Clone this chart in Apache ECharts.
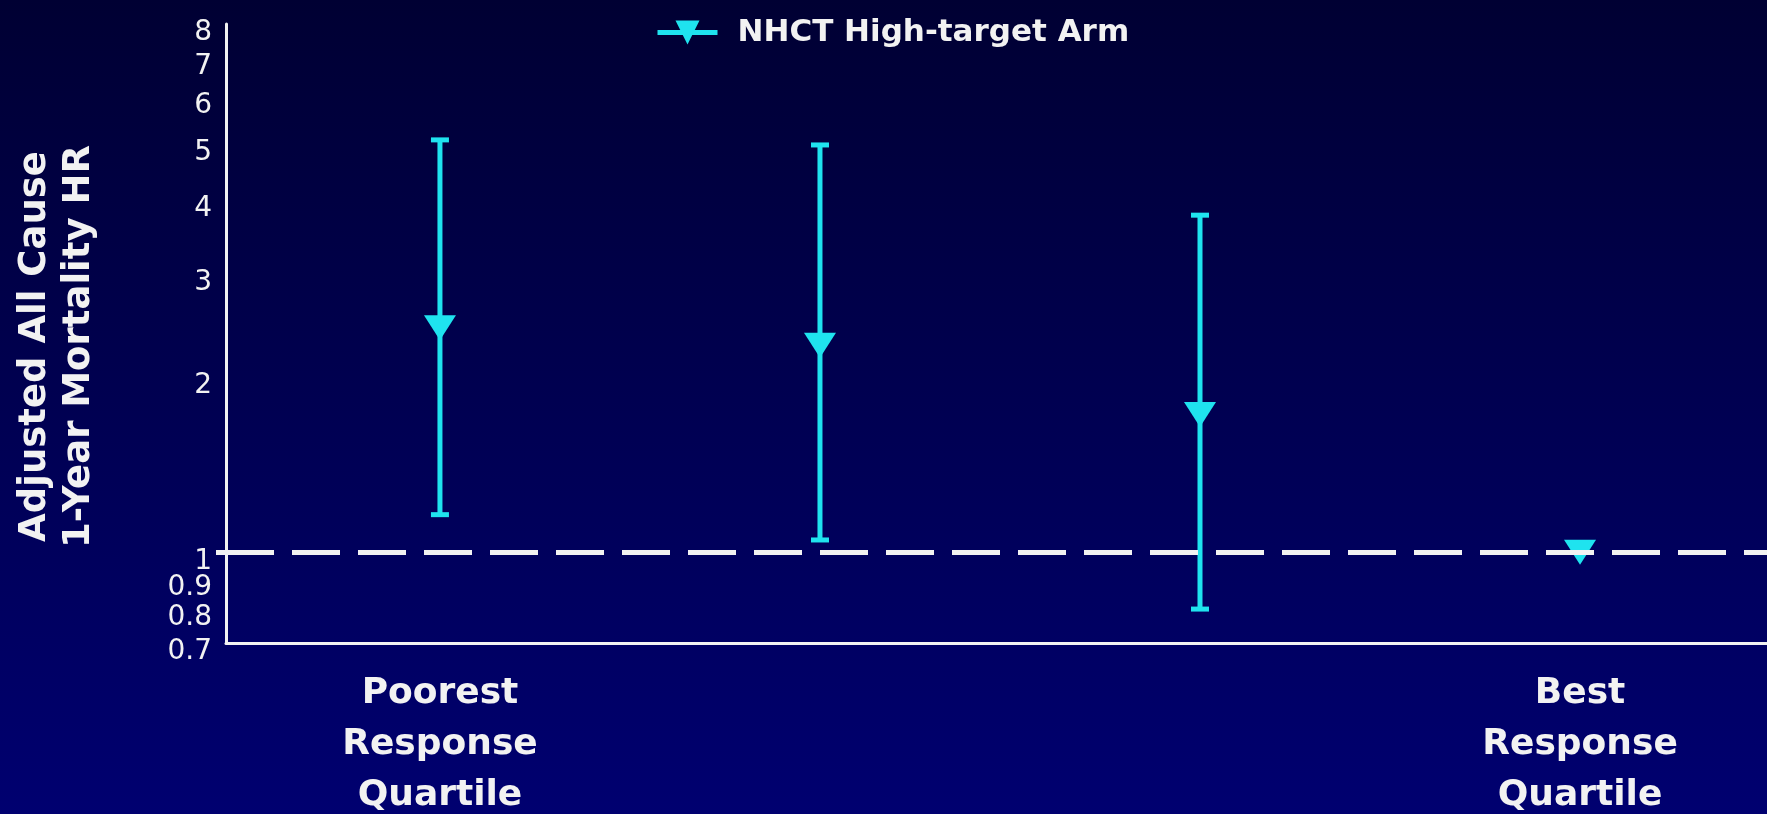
<!DOCTYPE html>
<html>
<head>
<meta charset="utf-8">
<title>Adjusted All Cause 1-Year Mortality HR by Response Quartile</title>
<script src="https://cdn.jsdelivr.net/npm/echarts@6/dist/echarts.min.js"></script>
<style>
  html, body { margin: 0; padding: 0; background: #000040; overflow: hidden; }
  #chart { width: 1767px; height: 814px; }
</style>
</head>
<body>
<div id="chart"></div>
<script>
// Response quartiles (positions 1..4 on the x axis); only the ends are labelled
const quartileLabels = ['Poorest\nResponse\nQuartile', '', '', 'Best\nResponse\nQuartile'];
const quartilePos = [1, 2, 3, 4];

// Hazard ratio point estimates and 95% CI bounds (best quartile is the reference)
const hazardRatio = [2.42, 2.26, 1.72, 1.0];
const ciLower = [1.16, 1.05, 0.80, null];
const ciUpper = [5.07, 4.97, 3.77, null];

// Log-scale tick labels on the y axis
const yTicks = [0.7, 0.8, 0.9, 1, 2, 3, 4, 5, 6, 7, 8];

const seriesName = 'NHCT High-target Arm';
const cyan = '#1fe3ef';
const white = '#f2f2f2';

const pointData = quartilePos.map((x, i) => [x, hazardRatio[i]]);
const ciData = [];
quartilePos.forEach((x, i) => {
  if (ciLower[i] != null && ciUpper[i] != null) ciData.push([x, ciLower[i], ciUpper[i]]);
});

const chart = echarts.init(document.getElementById('chart'));

chart.setOption({
  backgroundColor: {
    type: 'linear', x: 0, y: 0, x2: 0, y2: 1,
    colorStops: [
      { offset: 0, color: '#000033' },
      { offset: 1, color: '#000070' }
    ]
  },
  animation: false,
  legend: {
    data: [seriesName],
    left: 655,
    top: 17,
    padding: 0,
    itemWidth: 60,
    itemHeight: 30,
    selectedMode: false,
    lineStyle: { color: cyan, width: 5, opacity: 1 },
    textStyle: {
      color: white,
      fontFamily: 'DejaVu Sans',
      fontWeight: 'bold',
      fontSize: 31,
      padding: [0, 0, 0, 15]
    }
  },
  grid: {
    left: 226, right: 0, top: 24, bottom: 171,
    containLabel: false,
    outerBoundsMode: 'none'
  },
  xAxis: {
    type: 'value',
    min: 0.437,
    max: 4.492,
    splitLine: { show: false },
    axisTick: { show: false },
    axisLine: { show: true, onZero: false, lineStyle: { color: white, width: 3 } },
    axisLabel: {
      customValues: [1, 4],
      formatter: v => quartileLabels[Math.round(v) - 1],
      color: white,
      fontFamily: 'DejaVu Sans',
      fontWeight: 'bold',
      fontSize: 36,
      lineHeight: 51,
      margin: 25
    }
  },
  yAxis: {
    type: 'log',
    logBase: 10,
    min: 0.7,
    max: 8,
    name: 'Adjusted All Cause\n1-Year Mortality HR',
    nameLocation: 'middle',
    nameRotate: 90,
    nameGap: 125,
    nameTextStyle: {
      color: white,
      fontFamily: 'DejaVu Sans',
      fontWeight: 'bold',
      fontSize: 37,
      lineHeight: 44,
      padding: [0, 26, 0, 0]
    },
    splitLine: { show: false },
    minorTick: { show: false },
    axisLine: { show: true, lineStyle: { color: white, width: 3 } },
    axisTick: {
      show: true,
      customValues: [1],
      length: 10,
      lineStyle: { color: white, width: 5 }
    },
    axisLabel: {
      customValues: yTicks,
      formatter: v => String(v),
      color: white,
      fontFamily: 'DejaVu Sans',
      fontSize: 28,
      margin: 14,
      verticalAlign: 'top',
      lineHeight: 18
    }
  },
  series: [
    {
      name: 'CI',
      type: 'custom',
      z: 2,
      silent: true,
      data: ciData,
      encode: { x: 0, y: [1, 2] },
      renderItem: function (params, api) {
        const x = api.value(0);
        const lo = api.coord([x, api.value(1)]);
        const hi = api.coord([x, api.value(2)]);
        const half = 9;
        const style = { stroke: cyan, lineWidth: 5 };
        return {
          type: 'group',
          children: [
            { type: 'line', shape: { x1: lo[0], y1: lo[1], x2: hi[0], y2: hi[1] }, style: style },
            { type: 'line', shape: { x1: hi[0] - half, y1: hi[1], x2: hi[0] + half, y2: hi[1] }, style: style },
            { type: 'line', shape: { x1: lo[0] - half, y1: lo[1], x2: lo[0] + half, y2: lo[1] }, style: style }
          ]
        };
      },
      markLine: {
        silent: true,
        symbol: 'none',
        label: { show: false },
        lineStyle: { color: white, width: 5, type: [48, 18] },
        data: [{ yAxis: 1 }]
      }
    },
    {
      name: seriesName,
      type: 'line',
      z: 3,
      data: pointData,
      symbol: 'path://M0,0 L10,0 L5,8 Z',
      symbolSize: [32, 25],
      showSymbol: true,
      lineStyle: { width: 0, opacity: 0 },
      itemStyle: { color: cyan },
      silent: true
    }
  ]
});
</script>
</body>
</html>
